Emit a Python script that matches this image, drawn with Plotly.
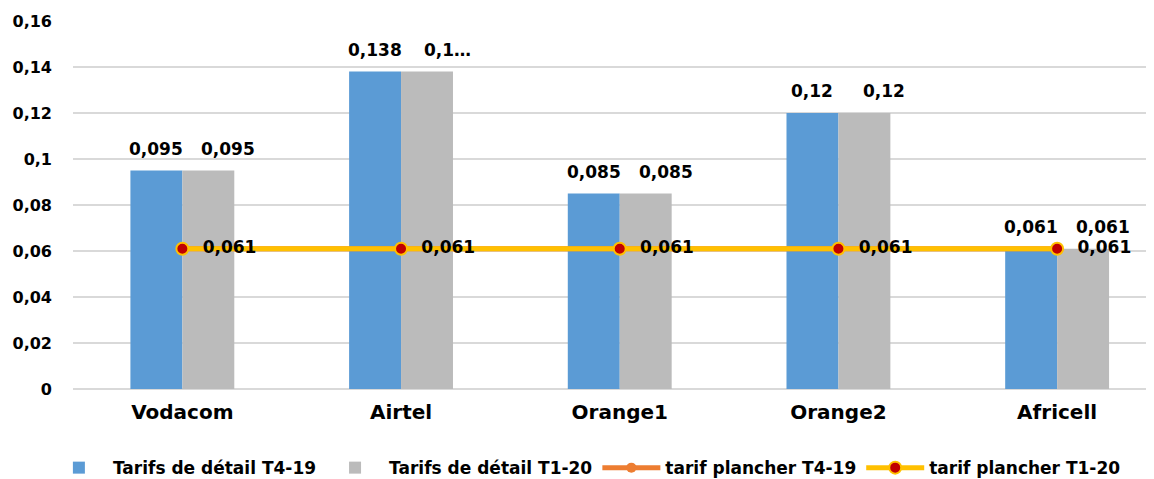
import plotly.graph_objects as go

categories = ["Vodacom", "Airtel", "Orange1", "Orange2", "Africell"]
detail_t4_19 = [0.095, 0.138, 0.085, 0.12, 0.061]
detail_t1_20 = [0.095, 0.138, 0.085, 0.12, 0.061]
plancher_t4_19 = [0.061, 0.061, 0.061, 0.061, 0.061]
plancher_t1_20 = [0.061, 0.061, 0.061, 0.061, 0.061]
detail_t4_19_labels = ["0,095", "0,138", "0,085", "0,12", "0,061"]
detail_t1_20_labels = ["0,095", "0,1…", "0,085", "0,12", "0,061"]
plancher_t1_20_labels = ["0,061", "0,061", "0,061", "0,061", "0,061"]
y_ticks = [0, 0.02, 0.04, 0.06, 0.08, 0.1, 0.12, 0.14, 0.16]
y_ticktext = ["0", "0,02", "0,04", "0,06", "0,08", "0,1", "0,12", "0,14", "0,16"]

FONT = "DejaVu Sans"
lab_font = dict(family=FONT, size=17, color="#000000", weight="bold")

fig = go.Figure()
fig.add_trace(go.Bar(
    x=categories, y=detail_t4_19, name="Tarifs de détail T4-19",
    marker=dict(color="#5B9BD5", line=dict(width=0))))
fig.add_trace(go.Bar(
    x=categories, y=detail_t1_20, name="Tarifs de détail T1-20",
    marker=dict(color="#BBBBBB", line=dict(width=0))))
fig.add_trace(go.Scatter(
    x=categories, y=plancher_t4_19, name="tarif plancher T4-19",
    mode="lines+markers", line=dict(color="#ED7D31", width=5),
    marker=dict(color="#ED7D31", size=10), cliponaxis=False))
fig.add_trace(go.Scatter(
    x=categories, y=plancher_t1_20, name="tarif plancher T1-20",
    mode="lines+markers+text", line=dict(color="#FFC000", width=5),
    marker=dict(color="#C00000", size=12, line=dict(color="#FFC000", width=2)),
    text=["  " + t for t in plancher_t1_20_labels], textposition="middle right",
    textfont=lab_font, cliponaxis=False))

# bar value labels (outside end)
for i, c in enumerate(categories):
    fig.add_annotation(x=c, y=detail_t4_19[i], text=detail_t4_19_labels[i],
                       showarrow=False, yanchor="bottom", xanchor="center",
                       xshift=-26, yshift=10, font=lab_font)
    fig.add_annotation(x=c, y=detail_t1_20[i], text=detail_t1_20_labels[i],
                       showarrow=False, yanchor="bottom", xanchor="center",
                       xshift=46, yshift=10, font=lab_font)

fig.update_layout(
    width=1154, height=479,
    margin=dict(l=65, r=8, t=13, b=98, autoexpand=False),
    paper_bgcolor="white", plot_bgcolor="white",
    barmode="group", bargap=0.525, bargroupgap=0,
    font=dict(family=FONT, size=16, color="#000000", weight="bold"),
    showlegend=True,
    legend=dict(orientation="h", x=0.474, xanchor="center", y=-0.166, yanchor="top",
                font=dict(family=FONT, size=17, color="#000000", weight="bold"),
                traceorder="normal", itemwidth=58),
    xaxis=dict(range=[-0.5, 4.443], showgrid=False, showline=False, ticks="",
               automargin=False, ticklabelstandoff=9,
               tickfont=dict(family=FONT, size=20, weight="bold")),
    yaxis=dict(range=[0, 0.16], tickvals=y_ticks, ticktext=y_ticktext,
               showgrid=True, gridcolor="#D9D9D9", gridwidth=1.5,
               zeroline=True, zerolinecolor="#D9D9D9", zerolinewidth=1.5,
               showline=False, ticks="", ticklabelstandoff=20, automargin=False,
               tickfont=dict(family=FONT, size=16, weight="bold")),
)

fig.write_html("out.html")
